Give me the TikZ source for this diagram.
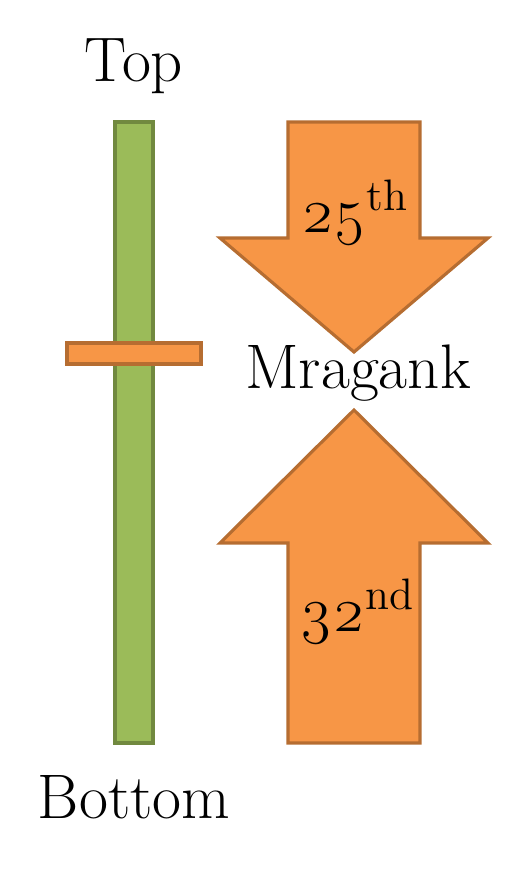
\documentclass[tikz,border=0pt]{standalone}
\usepackage{fontspec}
\setmainfont{Latin Modern Roman}[Numbers=OldStyle]
\definecolor{barfill}{HTML}{9BBB59}
\definecolor{barline}{HTML}{71893F}
\definecolor{arrfill}{HTML}{F79646}
\definecolor{arrline}{HTML}{B66D31}

\begin{document}
\begin{tikzpicture}[x=0.01cm,y=-0.01cm,pole/.style={draw=barline,fill=barfill,line width=0.9pt},marker/.style={draw=arrline,fill=arrfill,line width=0.9pt},bigarrow/.style={draw=arrline,fill=arrfill,line width=0.9pt,line join=miter},label/.style={font=\fontsize{17.9}{21}\selectfont,inner sep=0pt}]
\useasboundingbox (0,0) rectangle (513,872);
% pole with the marker
\draw[pole] (115,122) rectangle (153,743);
\draw[marker] (67,343) rectangle (201,364);
\node[label] (top) at (134,66) {Top};
\node[label] (bottom) at (134,797) {Bottom};
% arrows towards the name
\draw[bigarrow] (288,122)--(420,122)--(420,238)--(488,238)--(354,352)--(220,238)--(288,238)--cycle;
\draw[bigarrow] (288,743)--(420,743)--(420,543)--(488,543)--(354,410)--(220,543)--(288,543)--cycle;
\node[label] (name) at (358,373) {Mragank};
\node[label] (from top) at (355,213) {25\textsuperscript{th}};
\node[label] (from bottom) at (357,612) {32\textsuperscript{nd}};
\end{tikzpicture}
\end{document}
